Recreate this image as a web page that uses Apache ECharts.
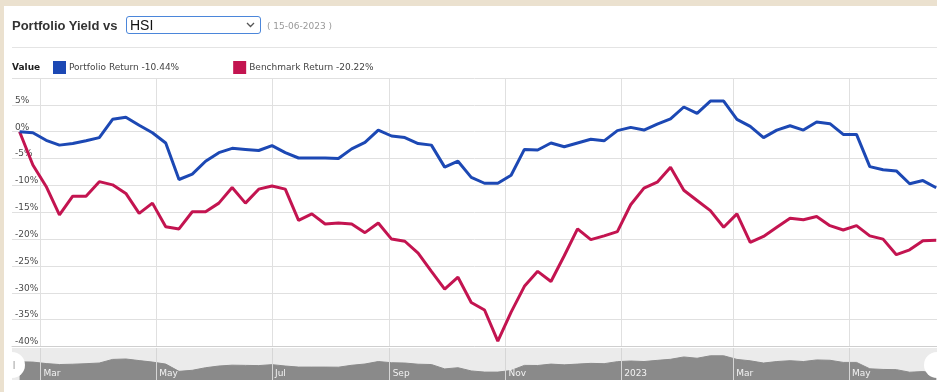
<!DOCTYPE html>
<html><head><meta charset="utf-8">
<script src="https://cdn.jsdelivr.net/npm/echarts@6/dist/echarts.min.js"></script>
<style>
html,body{margin:0;padding:0;width:937px;height:392px;overflow:hidden;background:#ebe1cf;}
#panel{position:absolute;left:4px;top:6px;width:933px;height:386px;background:#fff;}
#chart{position:absolute;left:0;top:0;width:937px;height:392px;}
#ttl{position:absolute;left:12px;top:17px;font:bold 13px "Liberation Sans",Arial,sans-serif;color:#333;line-height:18px;}
#sel{position:absolute;left:126px;top:16px;width:130px;height:16px;border:1.5px solid #4b86da;border-radius:3px;font:14px "Liberation Sans",Arial,sans-serif;color:#111;line-height:16px;padding-left:3px;background:#fff;}
#sel svg{position:absolute;right:5px;top:5px;}
#dt{position:absolute;left:267px;top:20px;font:9px "DejaVu Sans",sans-serif;color:#999;line-height:12px;}
#sep{position:absolute;left:12px;right:0;top:47px;height:1px;background:#e4e4e4;}
</style></head>
<body>
<div id="panel"></div>
<div id="chart"></div>
<div id="ttl">Portfolio Yield vs</div>
<div id="sel">HSI<svg width="9" height="6" viewBox="0 0 9 6"><path d="M1 1 L4.5 4.5 L8 1" stroke="#555" stroke-width="1.3" fill="none"/></svg></div>
<div id="dt">( 15-06-2023 )</div>
<div id="sep"></div>
<script>
// ---- data ----
const startDate = [2022, 1, 18]; // first weekly observation (18 Feb 2022)
const seriesNames = ['Portfolio Return', 'Benchmark Return'];
const legendValues = ['-10.44%', '-20.22%'];
const portfolioReturn = [
  0, -0.2, -1.6, -2.5, -2.2, -1.7, -1.1, 2.3, 2.7, 1.2,
  -0.2, -2.1, -8.9, -7.9, -5.5, -3.9, -3.1, -3.3, -3.5, -2.6,
  -3.9, -4.9, -4.9, -4.9, -5.0, -3.2, -2.0, 0.3, -0.8, -1.1,
  -2.2, -2.5, -6.6, -5.5, -8.5, -9.6, -9.6, -8.1, -3.3, -3.4,
  -2.1, -2.8, -2.1, -1.4, -1.7, 0.2, 0.8, 0.3, 1.4, 2.4,
  4.6, 3.4, 5.7, 5.7, 2.3, 1.0, -1.1, 0.3, 1.1, 0.3,
  1.8, 1.5, -0.5, -0.5, -6.5, -7.1, -7.3, -9.7, -9.1, -10.44
];
const benchmarkReturn = [
  0, -6.2, -10.2, -15.5, -12.0, -12.0, -9.3, -9.9, -11.5, -15.2,
  -13.3, -17.7, -18.1, -14.9, -14.9, -13.3, -10.4, -13.3, -10.7, -10.1,
  -10.7, -16.5, -15.3, -17.2, -17.0, -17.2, -18.8, -17.0, -20.0, -20.4,
  -22.6, -26.0, -29.3, -27.1, -31.8, -33.2, -39.0, -33.6, -28.8, -26.0,
  -27.9, -23.1, -18.1, -20.1, -19.4, -18.6, -13.6, -10.5, -9.4, -6.6,
  -10.9, -12.8, -14.7, -17.8, -15.3, -20.6, -19.5, -17.8, -16.1, -16.4,
  -15.8, -17.5, -18.3, -17.5, -19.4, -20.0, -22.9, -22.0, -20.3, -20.22
];
const monthTicks = ['2022-03-01','2022-05-01','2022-07-01','2022-09-01','2022-11-01','2023-01-01','2023-03-01','2023-05-01'];
const monthTickLabels = ['Mar','May','Jul','Sep','Nov','2023','Mar','May'];
const yMin = -40, yMax = 10, yStep = 5;
const xMinDate = [2022, 1, 14], xMaxDate = [2023, 5, 16, 10];

// helpers (time as numeric timestamps on a value axis)
const ts = s => { const p = s.split('-'); return new Date(+p[0], +p[1] - 1, +p[2]).getTime(); };
const dateTs = portfolioReturn.map((_, i) => new Date(startDate[0], startDate[1], startDate[2] + 7 * i).getTime());
const pairs = arr => arr.map((v, i) => [dateTs[i], v]);
const tickTs = monthTicks.map(ts);
const xMin = new Date(...xMinDate).getTime(), xMax = new Date(...xMaxDate).getTime();
function navLabel(v) {
  const i = tickTs.findIndex(t => Math.abs(t - v) < 43200000);
  return i >= 0 ? monthTickLabels[i] : '';
}

const font = '"DejaVu Sans", Verdana, sans-serif';
const chart = echarts.init(document.getElementById('chart'), null, {renderer: 'canvas'});
chart.setOption({
  animation: false,
  backgroundColor: 'transparent',
  title: {text: 'Value', left: 12, top: 63, padding: 0, textStyle: {fontSize: 9, fontWeight: 'bold', fontFamily: font, color: '#222'}},
  legend: {
    data: seriesNames, left: 53, top: 61, padding: 0, icon: 'rect', itemWidth: 13, itemHeight: 13, itemGap: 54,
    formatter: n => n + ' ' + legendValues[seriesNames.indexOf(n)],
    textStyle: {fontSize: 9, fontFamily: font, color: '#444', padding: [0, 0, 0, -2]}
  },
  grid: [
    {left: 12, right: 0, top: 78, bottom: 45.5},
    {left: 12, right: 0, top: 348, height: 32, show: true, backgroundColor: '#ebebeb', borderWidth: 0}
  ],
  xAxis: [
    {type: 'value', gridIndex: 0, min: xMin, max: xMax,
     axisLine: {show: true, onZero: false, lineStyle: {color: '#cfcfcf', width: 1}},
     axisTick: {show: false, customValues: tickTs},
     axisLabel: {show: false},
     splitLine: {show: true, lineStyle: {color: '#e0e0e0', width: 1}}},
    {type: 'value', gridIndex: 1, min: xMin, max: xMax, z: 3,
     axisLine: {show: false},
     axisTick: {show: false, customValues: tickTs},
     axisLabel: {show: true, customValues: tickTs, inside: true, margin: 2, align: 'left', padding: [0, 0, 0, 3],
                 color: '#f2f2f2', fontSize: 9, fontFamily: font, formatter: v => navLabel(v), hideOverlap: false},
     splitLine: {show: true, lineStyle: {color: '#d6d6d6', width: 1}}}
  ],
  yAxis: [
    {type: 'value', gridIndex: 0, min: yMin, max: yMax, interval: yStep,
     axisLine: {show: false}, axisTick: {show: false},
     axisLabel: {inside: true, margin: 3, verticalAlign: 'bottom', color: '#4a4a4a', fontSize: 9, fontFamily: font,
                 formatter: v => v === yMax ? '' : v + '%'},
     splitLine: {lineStyle: {color: '#e0e0e0', width: 1}}},
    {type: 'value', gridIndex: 1, min: -17, max: 13, show: false, splitLine: {show: false}}
  ],
  series: [
    {name: seriesNames[0], type: 'line', data: pairs(portfolioReturn), symbol: 'none', z: 3,
     lineStyle: {color: '#1c48b4', width: 3}, itemStyle: {color: '#1c48b4'}},
    {name: seriesNames[1], type: 'line', data: pairs(benchmarkReturn), symbol: 'none', z: 2,
     lineStyle: {color: '#c31450', width: 3}, itemStyle: {color: '#c31450'}},
    {name: 'nav', type: 'line', xAxisIndex: 1, yAxisIndex: 1, data: pairs(portfolioReturn), symbol: 'none', silent: true, z: 1,
     lineStyle: {color: '#8a8a8a', width: 1}, areaStyle: {color: '#8a8a8a', opacity: 1, origin: 'start'}}
  ],
  graphic: [
    {type: 'sector', shape: {cx: 12, cy: 365, r: 13, r0: 0, startAngle: -Math.PI / 2, endAngle: Math.PI / 2}, style: {fill: '#ffffff'}, z: 10},
    {type: 'rect', shape: {x: 13.5, y: 361, width: 1.2, height: 8}, style: {fill: '#b0b0b0'}, z: 11},
    {type: 'sector', shape: {cx: 937, cy: 365, r: 13, r0: 0, startAngle: Math.PI / 2, endAngle: Math.PI * 1.5}, style: {fill: '#ffffff'}, z: 10}
  ]
});
</script>
</body></html>
